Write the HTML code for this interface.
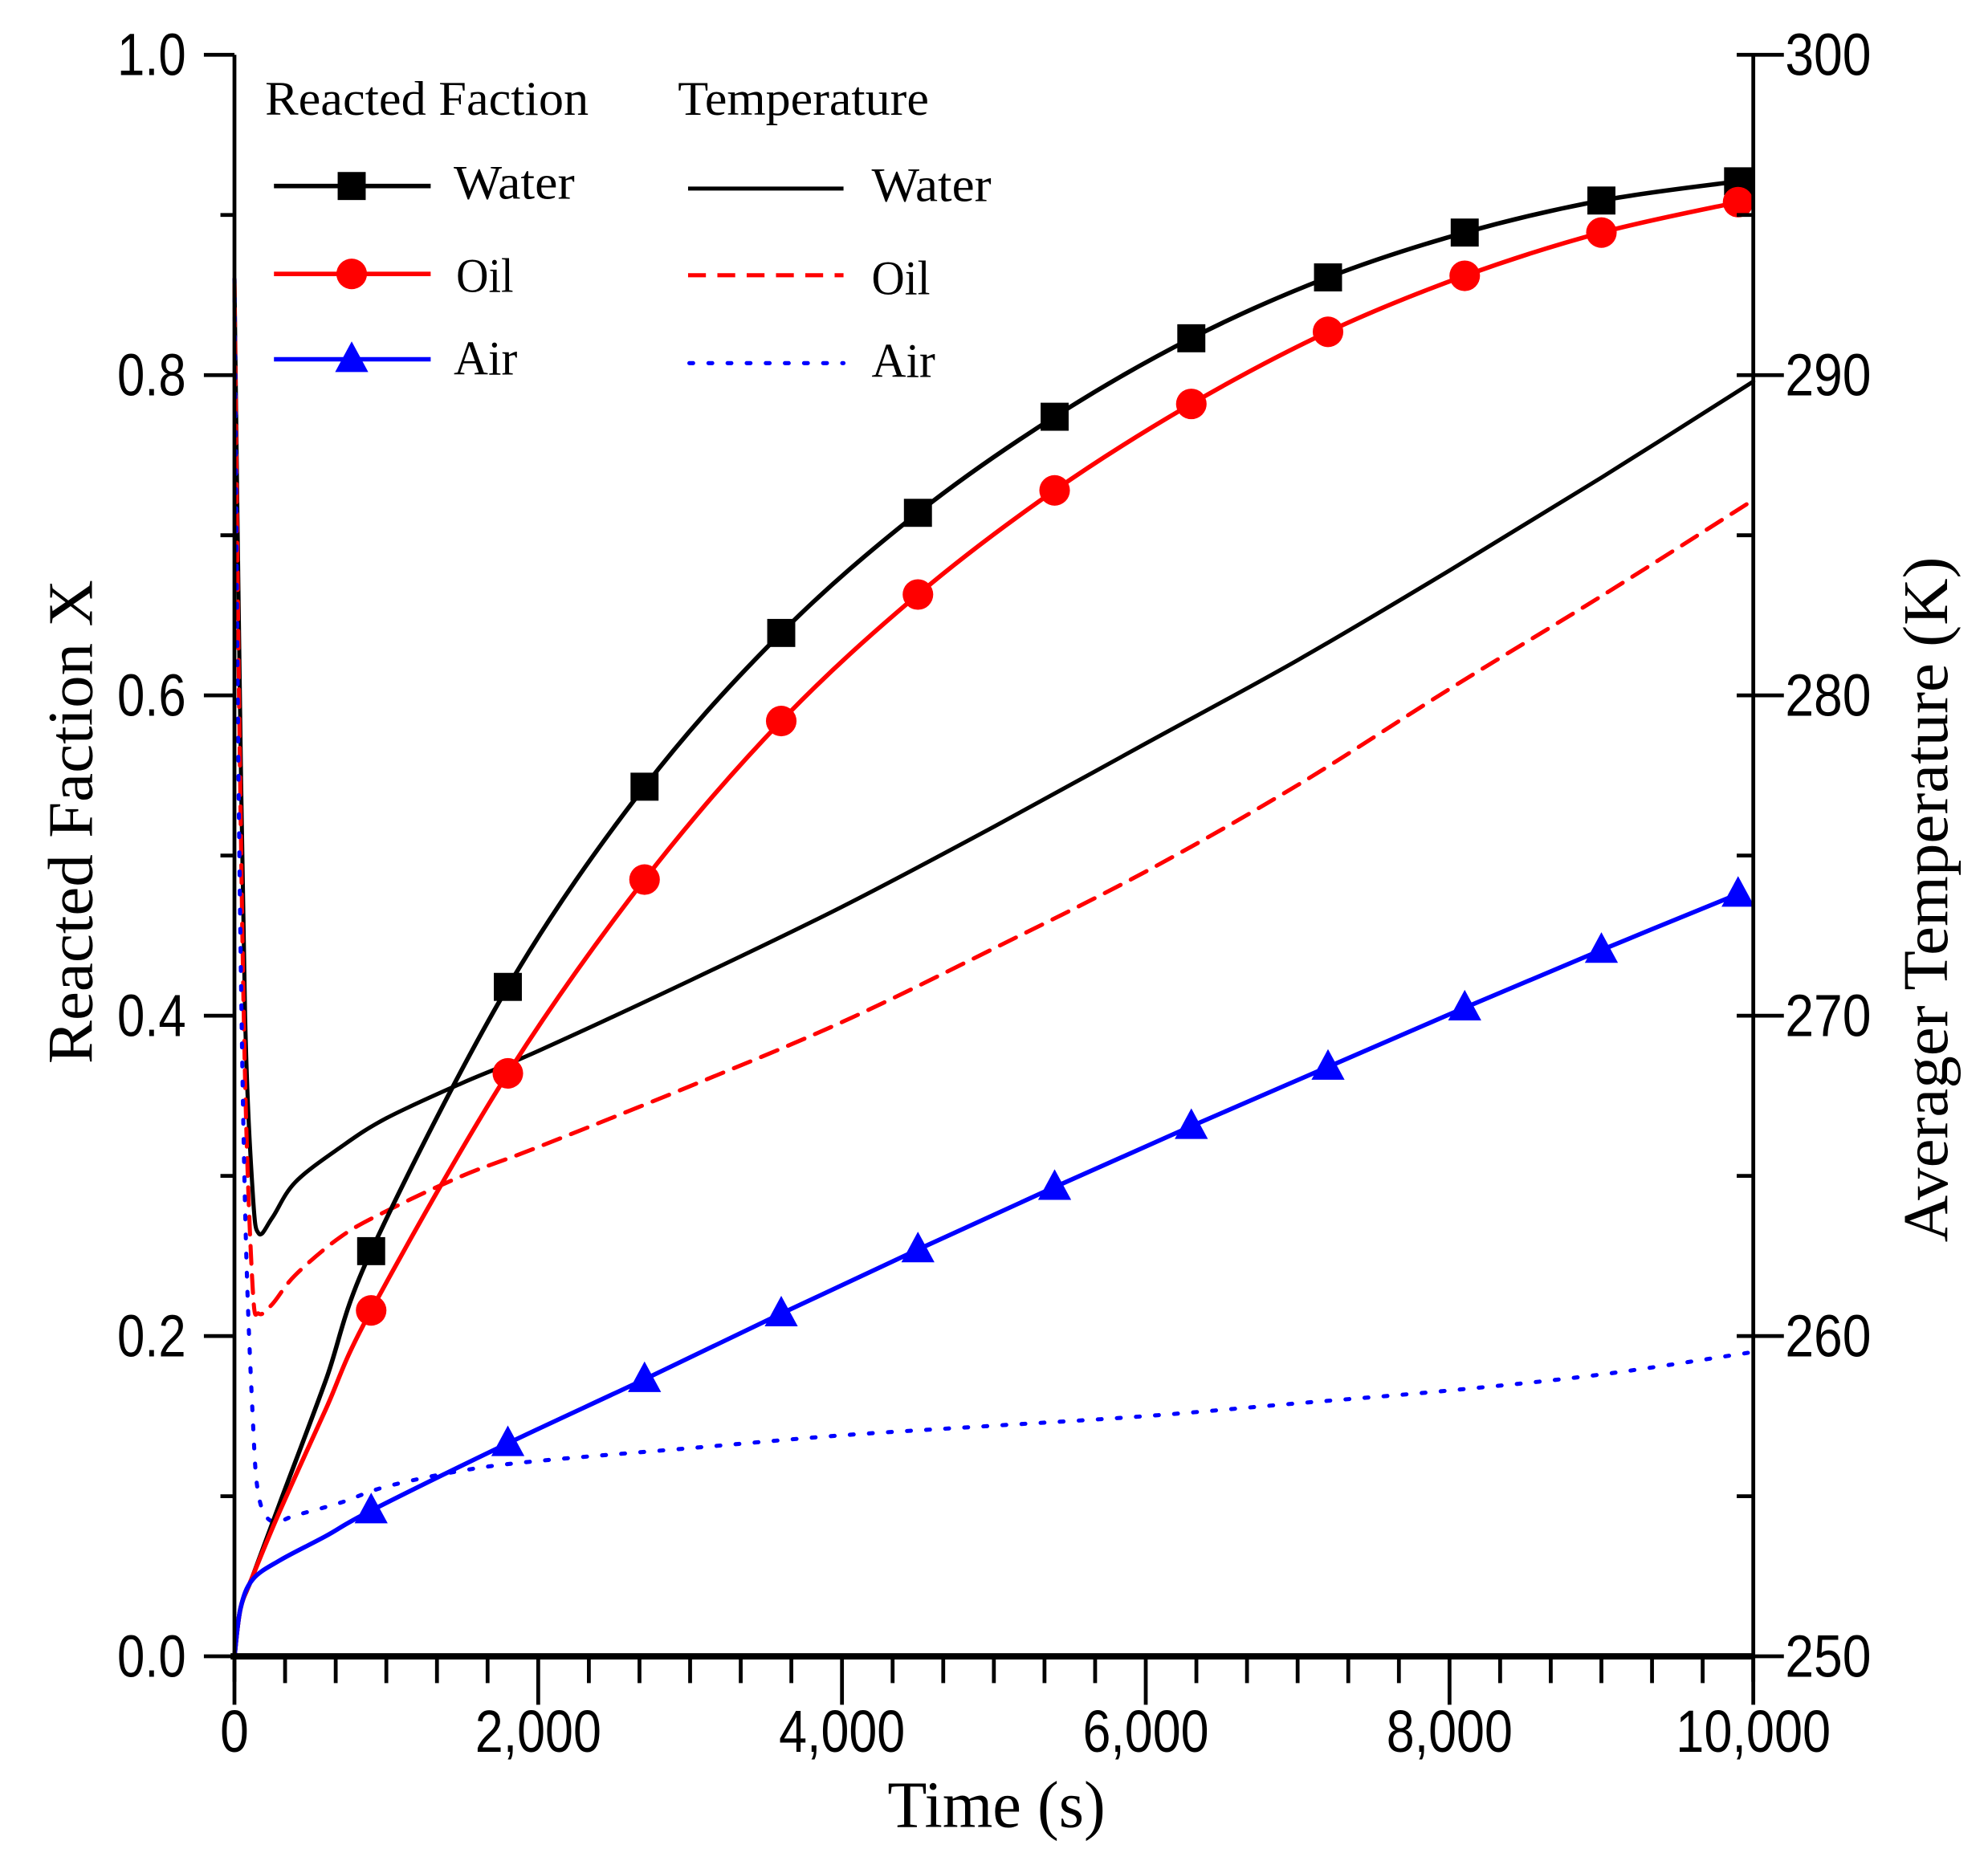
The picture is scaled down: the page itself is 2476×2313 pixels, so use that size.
<!DOCTYPE html>
<html><head><meta charset="utf-8"><style>
html,body{margin:0;padding:0;background:#fff;}
svg{display:block;}
.tk{font-family:"Liberation Sans",sans-serif;font-size:47px;fill:#000;}
.sf{font-family:"Liberation Serif",serif;fill:#000;}
</style></head><body>
<svg id="chart" width="2476" height="2313" viewBox="0 0 1560.2 1457.5" xmlns="http://www.w3.org/2000/svg">
<g id="plot"></g>
</svg>
<script>
const markerTimes=[900,1800,2700,3600,4500,5400,6300,7200,8100,9000,9900];
const xWater=[0.253,0.418,0.543,0.639,0.714,0.774,0.823,0.861,0.889,0.909,0.921];
const xOil=[0.216,0.364,0.485,0.584,0.663,0.728,0.782,0.827,0.862,0.889,0.908];
const xAir=[0.091,0.133,0.173,0.214,0.254,0.293,0.331,0.368,0.405,0.441,0.476];
const earlyTimes=[0,40,120,300,600];
const xWaterEarly=[0,0.03,0.05,0.096,0.172];
const xOilEarly=[0,0.03,0.05,0.091,0.154];
const xAirEarly=[0,0.03,0.048,0.06,0.075];
const tempTimes=[0,30,70,120,160,250,400,700,1000,1500,2000,3000,4000,5000,6000,7000,8000,9000,10000];
const tWater=[293,282,270,264.5,263.2,263.7,264.8,265.9,266.8,267.9,268.9,271.1,273.4,275.9,278.5,281.1,283.9,286.8,289.8];
const tOil=[293,280,268,261.5,260.7,261,261.9,263.1,263.9,265,265.9,267.8,269.8,272.1,274.5,277.2,280.2,283.1,286.1];
const tAir=[293,276,264,257.5,255,254.2,254.4,254.8,255.3,255.8,256.1,256.5,256.9,257.2,257.5,257.9,258.3,258.8,259.5];
const xTicks=["0","2,000","4,000","6,000","8,000","10,000"];
const yTicks=["0.0","0.2","0.4","0.6","0.8","1.0"];
const y2Ticks=["250","260","270","280","290","300"];

const L=184,R=1376,T=43,B=1300;
const sx=t=>L+(R-L)*t/10000;
const sy=v=>B-(B-T)*v;
const sy2=k=>B-(B-T)*(k-250)/50;
const NS="http://www.w3.org/2000/svg";
const g=document.getElementById('plot');
function mk(tag,attrs,parent){const e=document.createElementNS(NS,tag);for(const k in attrs)e.setAttribute(k,attrs[k]);(parent||g).appendChild(e);return e;}
function tw(s){let w=0;for(const ch of s)w+=(ch==='.'||ch===',')?9:22.5;return w;}
function path(pts){
  let d="M"+pts[0][0]+","+pts[0][1];
  for(let i=0;i<pts.length-1;i++){
    const p0=pts[Math.max(0,i-1)],p1=pts[i],p2=pts[i+1],p3=pts[Math.min(pts.length-1,i+2)];
    const c1=[p1[0]+(p2[0]-p0[0])/6,p1[1]+(p2[1]-p0[1])/6];
    const c2=[p2[0]-(p3[0]-p1[0])/6,p2[1]-(p3[1]-p1[1])/6];
    d+=` C${c1[0]},${c1[1]} ${c2[0]},${c2[1]} ${p2[0]},${p2[1]}`;
  }
  return d;
}
const tSeries=[[tWater,'#000','none','temp-water-line'],[tOil,'#f00','14 9','temp-oil-line'],[tAir,'#00f','3 12','temp-air-line']];
tSeries.forEach(([arr,c,da,nm])=>{
  const pts=tempTimes.map((t,i)=>[sx(t),sy2(arr[i])]);
  const e=mk('path',{d:path(pts),fill:'none',stroke:c,'stroke-width':3.2,'stroke-dasharray':da,'stroke-linecap':'round'});
  
  
});
const xSeries=[[xWaterEarly,xWater,'#000','sq','water'],[xOilEarly,xOil,'#f00','ci','oil'],[xAirEarly,xAir,'#00f','tr','air']];
xSeries.forEach(([early,main,c,m,nm])=>{
  const pts=earlyTimes.map((t,i)=>[sx(t),sy(early[i])]).concat(markerTimes.map((t,i)=>[sx(t),sy(main[i])]));
  const e=mk('path',{d:path(pts),fill:'none',stroke:c,'stroke-width':3.5});
  
  
  markerTimes.forEach((t,i)=>{
    const x=sx(t),y=sy(main[i]);let mm;
    if(m==='sq')mm=mk('rect',{x:x-11,y:y-11,width:22,height:22,fill:c});
    else if(m==='ci')mm=mk('circle',{cx:x,cy:y,r:12,fill:c});
    else mm=mk('polygon',{points:`${x},${y-14} ${x-13},${y+10} ${x+13},${y+10}`,fill:c});
    
    
  });
});
const ax=mk('g',{stroke:'#000','stroke-width':3,fill:'none'});


mk('line',{x1:L,y1:T,x2:L,y2:B+20},ax);
mk('line',{x1:R,y1:T,x2:R,y2:B+20},ax);
mk('line',{x1:L-3,y1:B,x2:R,y2:B,'stroke-width':5},ax);
for(let i=0;i<=10;i++){const y=sy(i/10);mk('line',{x1:i%2?L-11:L-24,y1:y,x2:L,y2:y},ax);}
for(let i=0;i<=10;i++){const y=sy2(250+5*i);if(i%2)mk('line',{x1:R-13,y1:y,x2:R,y2:y},ax);else mk('line',{x1:R-13,y1:y,x2:R+24,y2:y},ax);}
for(let i=0;i<=30;i++){const x=sx(i*10000/30);mk('line',{x1:x,y1:B,x2:x,y2:i%6?B+21:B+38},ax);}
xTicks.forEach((s,i)=>{const e=mk('text',{x:sx(i*2000),y:1375,'text-anchor':'middle',class:'tk',textLength:tw(s),lengthAdjust:'spacingAndGlyphs'});e.textContent=s;
  });
yTicks.forEach((s,i)=>{const e=mk('text',{x:146,y:sy(i*0.2)+16,'text-anchor':'end',class:'tk',textLength:tw(s),lengthAdjust:'spacingAndGlyphs'});e.textContent=s;
  });
y2Ticks.forEach((s,i)=>{const e=mk('text',{x:1401,y:sy2(250+i*10)+16,'text-anchor':'start',class:'tk',textLength:tw(s),lengthAdjust:'spacingAndGlyphs'});e.textContent=s;
  });
</script>
<svg style="position:absolute;left:0;top:0" width="2476" height="2313" viewBox="0 0 1560.2 1457.5" xmlns="http://www.w3.org/2000/svg">
<text class="sf" x="782" y="1434" font-size="52" text-anchor="middle" textLength="171" lengthAdjust="spacingAndGlyphs">Time (s)</text>
<text class="sf" transform="translate(72,645) rotate(-90)" font-size="50" text-anchor="middle" textLength="380" lengthAdjust="spacingAndGlyphs">Reacted Faction X</text>
<text class="sf" transform="translate(1528,706) rotate(-90)" font-size="50" text-anchor="middle" textLength="538" lengthAdjust="spacingAndGlyphs">Averager Temperature (K)</text>
<g>
<text class="sf" x="208" y="90" font-size="38" textLength="254" lengthAdjust="spacingAndGlyphs">Reacted Faction</text>
<text class="sf" x="532" y="90" font-size="38" textLength="197" lengthAdjust="spacingAndGlyphs">Temperature</text>
<g><line x1="215" y1="146" x2="338" y2="146" stroke="#000" stroke-width="3.5"/><rect x="265" y="135" width="22" height="22" fill="#000"/><text class="sf" x="356" y="156" font-size="38" textLength="95" lengthAdjust="spacingAndGlyphs">Water</text></g>
<g><line x1="215" y1="215" x2="338" y2="215" stroke="#f00" stroke-width="3.5"/><circle cx="276" cy="215" r="12" fill="#f00"/><text class="sf" x="358" y="229" font-size="38" textLength="45" lengthAdjust="spacingAndGlyphs">Oil</text></g>
<g><line x1="215" y1="282" x2="338" y2="282" stroke="#00f" stroke-width="3.5"/><polygon points="276,268 263,292 289,292" fill="#00f"/><text class="sf" x="356" y="294" font-size="38" textLength="50" lengthAdjust="spacingAndGlyphs">Air</text></g>
<g><line x1="540" y1="148" x2="662" y2="148" stroke="#000" stroke-width="3.2"/><text class="sf" x="684" y="158" font-size="38" textLength="94" lengthAdjust="spacingAndGlyphs">Water</text></g>
<g><line x1="540" y1="216" x2="662" y2="216" stroke="#f00" stroke-width="3.2" stroke-dasharray="14 9"/><text class="sf" x="684" y="231" font-size="38" textLength="46" lengthAdjust="spacingAndGlyphs">Oil</text></g>
<g><line x1="541" y1="285" x2="662" y2="285" stroke="#00f" stroke-width="3.2" stroke-dasharray="3 12" stroke-linecap="round"/><text class="sf" x="684" y="296" font-size="38" textLength="50" lengthAdjust="spacingAndGlyphs">Air</text></g>
</g>
</svg>
</body></html>
